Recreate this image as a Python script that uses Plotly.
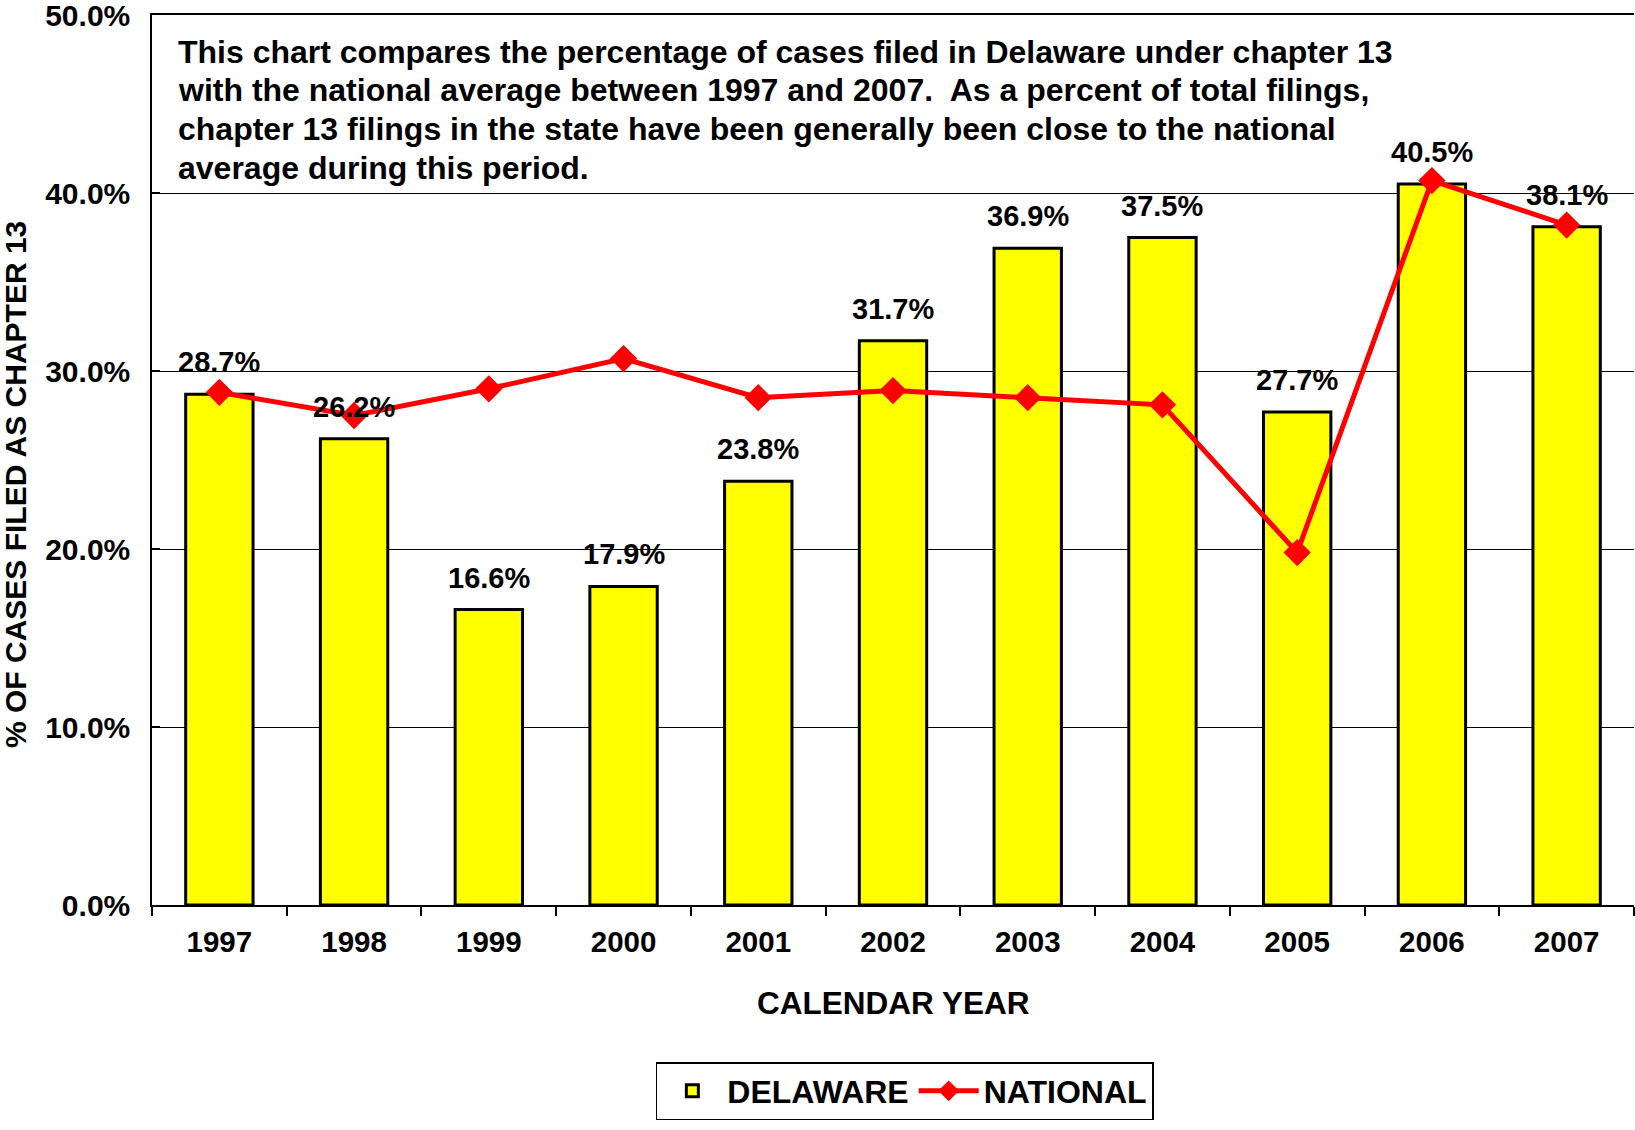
import plotly.graph_objects as go

years = ["1997", "1998", "1999", "2000", "2001", "2002", "2003", "2004", "2005", "2006", "2007"]
delaware = [28.7, 26.2, 16.6, 17.9, 23.8, 31.7, 36.9, 37.5, 27.7, 40.5, 38.1]
national = [28.8, 27.5, 29.0, 30.7, 28.5, 28.9, 28.5, 28.1, 19.8, 40.7, 38.2]
bar_labels = ["28.7%", "26.2%", "16.6%", "17.9%", "23.8%", "31.7%", "36.9%", "37.5%", "27.7%", "40.5%", "38.1%"]

note_lines = [
    "This chart compares the percentage of cases filed in Delaware under chapter 13",
    "with the national average between 1997 and 2007.  As a percent of total filings,",
    "chapter 13 filings in the state have been generally been close to the national",
    "average during this period.",
]

FONT = "Liberation Sans, Arial, sans-serif"

fig = go.Figure()
fig.add_trace(go.Bar(
    x=years, y=delaware, name="DELAWARE", width=0.5,
    marker=dict(color="#FFFF00", line=dict(color="black", width=3)),
))
fig.add_trace(go.Scatter(
    x=years, y=national, name="NATIONAL", mode="lines+markers",
    line=dict(color="#FF0000", width=5),
    marker=dict(symbol="diamond", size=21, color="#FF0000"),
))

annotations = []
for i, (v, lab) in enumerate(zip(delaware, bar_labels)):
    annotations.append(dict(x=i, y=v, xref="x", yref="y", text="<b>" + lab + "</b>",
                            showarrow=False, yanchor="bottom", yshift=14,
                            font=dict(family=FONT, size=29, color="black")))

# paragraph lines: centers at 52, 90.5, 129, 167.5 px from top; plot spans 15..905
for k, line in enumerate(note_lines):
    ypix = 52 + 38.5 * k
    annotations.append(dict(xref="paper", yref="paper", x=0.0165, y=(905 - ypix) / 890,
                            xanchor="left", yanchor="middle", align="left",
                            text="<b>" + line + "</b>", showarrow=False,
                            font=dict(family=FONT, size=32, color="black")))
annotations.append(dict(xref="paper", yref="paper", x=0.5, y=(905 - 1003) / 890,
                        xanchor="center", yanchor="middle", text="<b>CALENDAR YEAR</b>",
                        showarrow=False, font=dict(family=FONT, size=31.5, color="black")))
annotations.append(dict(xref="paper", yref="paper", x=(16 - 152) / 1482, y=(905 - 485) / 890,
                        xanchor="center", yanchor="middle", textangle=-90,
                        text="<b>% OF CASES FILED AS CHAPTER 13</b>", showarrow=False,
                        font=dict(family=FONT, size=30, color="black")))

fig.update_layout(
    width=1635, height=1130,
    margin=dict(l=152, r=1, t=15, b=225, autoexpand=False),
    plot_bgcolor="white", paper_bgcolor="white",
    font=dict(family=FONT, size=29, color="black", weight="bold"),
    showlegend=True,
    legend=dict(orientation="h", x=0.508, y=(905 - 1062) / 890, xanchor="center", yanchor="top",
                bordercolor="black", borderwidth=1.5,
                font=dict(size=32, family=FONT, weight="bold"),
                itemwidth=60, traceorder="normal"),
    annotations=annotations,
)
fig.update_xaxes(
    type="category", range=[-0.5, 10.5], automargin=False,
    showline=True, linecolor="black", linewidth=1.5, mirror=True,
    ticks="outside", tickson="boundaries", ticklen=9, tickcolor="black", tickwidth=1.5,
    showgrid=False, ticklabelstandoff=10, tickangle=0,
    tickfont=dict(family=FONT, size=29.5, color="black", weight="bold"),
)
fig.update_yaxes(
    range=[0, 50], dtick=10, tickformat=".1f", ticksuffix="%", automargin=False,
    showline=True, linecolor="black", linewidth=1.5,
    showgrid=True, gridcolor="black", gridwidth=1.2,
    ticks="inside", ticklen=8, tickcolor="black", tickwidth=1.5,
    ticklabelstandoff=14, zeroline=False, ticklabeloverflow="allow",
    tickfont=dict(family=FONT, size=30, color="black", weight="bold"),
)

fig.write_html("out.html", config={"displayModeBar": False},
               post_script="document.body.style.margin='0';document.body.style.overflow='hidden';")
